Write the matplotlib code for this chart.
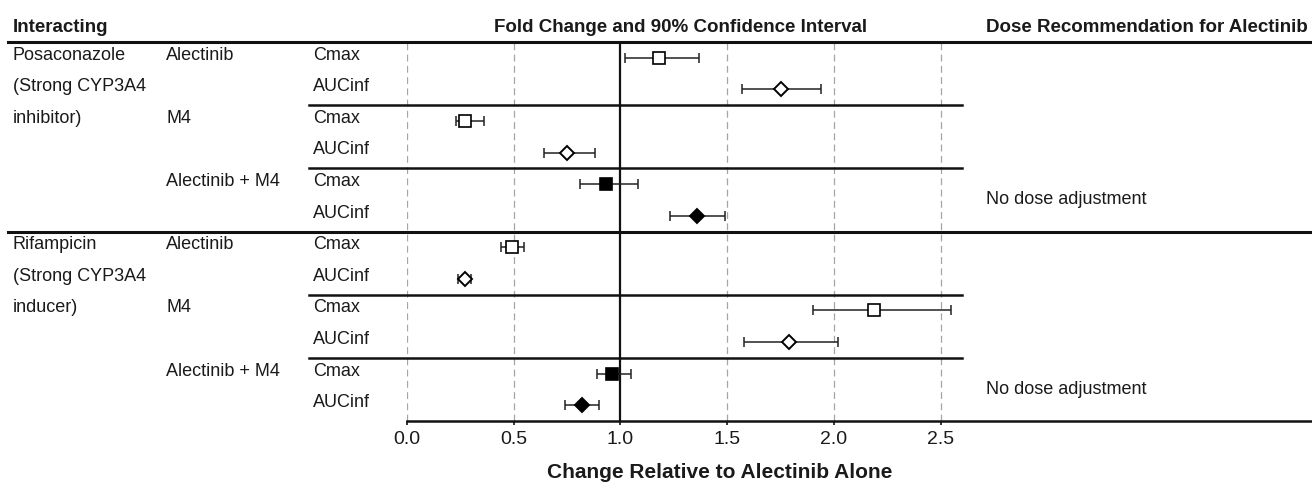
import matplotlib.pyplot as plt
from matplotlib.transforms import blended_transform_factory

plt.rcParams['font.family'] = ['Liberation Sans', 'DejaVu Sans']

# Dados
interacting_labels = ['Posaconazole', '(Strong CYP3A4', 'inhibitor)',
                      'Rifampicin', '(Strong CYP3A4', 'inducer)']
interacting_rows = [0, 1, 2, 6, 7, 8]
analyte_labels = ['Alectinib', 'M4', 'Alectinib + M4',
                  'Alectinib', 'M4', 'Alectinib + M4']
analyte_rows = [0, 2, 4, 6, 8, 10]
param_labels = ['Cmax', 'AUCinf'] * 6
fold_change = [1.18, 1.75, 0.27, 0.75, 0.93, 1.36,
               0.49, 0.27, 2.19, 1.79, 0.96, 0.82]
ci_low = [1.02, 1.57, 0.23, 0.64, 0.81, 1.23,
          0.44, 0.24, 1.90, 1.58, 0.89, 0.74]
ci_high = [1.37, 1.94, 0.36, 0.88, 1.08, 1.49,
           0.55, 0.30, 2.55, 2.02, 1.05, 0.90]
combined = [False, False, False, False, True, True,
            False, False, False, False, True, True]
dose_labels = ['No dose adjustment', 'No dose adjustment']
dose_rows = [4, 10]
xticks = [0.0, 0.5, 1.0, 1.5, 2.0, 2.5]

W, H = 1312, 482
fig = plt.figure(figsize=(W / 100, H / 100), dpi=100)
ax = fig.add_axes([407 / W, 1 - 421 / H, (962 - 407) / W, (421 - 42) / H])
ax.set_xlim(0, 2.6)
ax.set_ylim(12, 0)
tr = blended_transform_factory(fig.transFigure, ax.transData)

txt = '#1a1a1a'
line_c = '#111111'

# grade
for x in xticks:
    if x == 1.0:
        ax.axvline(x, color=line_c, lw=1.6, zorder=1)
    else:
        ax.axvline(x, color='#a5a5a5', lw=0.9, ls=(0, (5.5, 3.5)), zorder=1)

# linhas horizontais
for y in [0, 6]:
    ax.plot([8 / W, 1], [y, y], transform=tr, clip_on=False, color=line_c, lw=2.2)
for y in [2, 4, 8, 10]:
    ax.plot([309 / W, 962 / W], [y, y], transform=tr, clip_on=False, color=line_c, lw=1.8)
ax.plot([407 / W, 1], [12, 12], transform=tr, clip_on=False, color=line_c, lw=1.8)

# pontos e intervalos
for i, fc in enumerate(fold_change):
    y = i + 0.5
    ax.errorbar([fc], [y], xerr=[[fc - ci_low[i]], [ci_high[i] - fc]], fmt='none',
                ecolor='#222222', elinewidth=1.1, capsize=3.4, capthick=1.1, zorder=2)
    is_cmax = param_labels[i] == 'Cmax'
    ax.plot([fc], [y], marker='s' if is_cmax else 'D',
            markersize=8.7 if is_cmax else 7.4,
            markerfacecolor='black' if combined[i] else 'white',
            markeredgecolor='black', markeredgewidth=1.2 if is_cmax else 1.4, zorder=3)

# textos das linhas
off = 0.06
for lab, r in zip(interacting_labels, interacting_rows):
    ax.text(13 / W, r + 0.5 + off, lab, transform=tr, va='baseline', fontsize=13, color=txt)
for lab, r in zip(analyte_labels, analyte_rows):
    ax.text(166 / W, r + 0.5 + off, lab, transform=tr, va='baseline', fontsize=13, color=txt)
for i, lab in enumerate(param_labels):
    ax.text(313 / W, i + 0.5 + off, lab, transform=tr, va='baseline', fontsize=13, color=txt)
for lab, r in zip(dose_labels, dose_rows):
    ax.text(986 / W, r + 1.0, lab, transform=tr, va='center', fontsize=13, color=txt)

# cabeçalhos
hy = 1 - 31.5 / H
fig.text(13 / W, hy, 'Interacting', fontsize=13.5, fontweight='bold', va='baseline', color=txt)
fig.text(681 / W, hy, 'Fold Change and 90% Confidence Interval', fontsize=13.5,
         fontweight='bold', va='baseline', ha='center', color=txt)
fig.text(986 / W, hy, 'Dose Recommendation for Alectinib', fontsize=13.5,
         fontweight='bold', va='baseline', color=txt)

# eixo x
ax.set_xticks(xticks)
ax.set_xticklabels(['%.1f' % x for x in xticks])
ax.set_yticks([])
ax.tick_params(axis='x', direction='out', length=3, width=1.2, pad=4,
               labelsize=14, colors=line_c, labelcolor=txt)
for s in ax.spines.values():
    s.set_visible(False)
fig.text(720 / W, 1 - 478 / H, 'Change Relative to Alectinib Alone', fontsize=15,
         fontweight='bold', ha='center', va='baseline', color=txt)

plt.savefig('out.png', dpi=100)
